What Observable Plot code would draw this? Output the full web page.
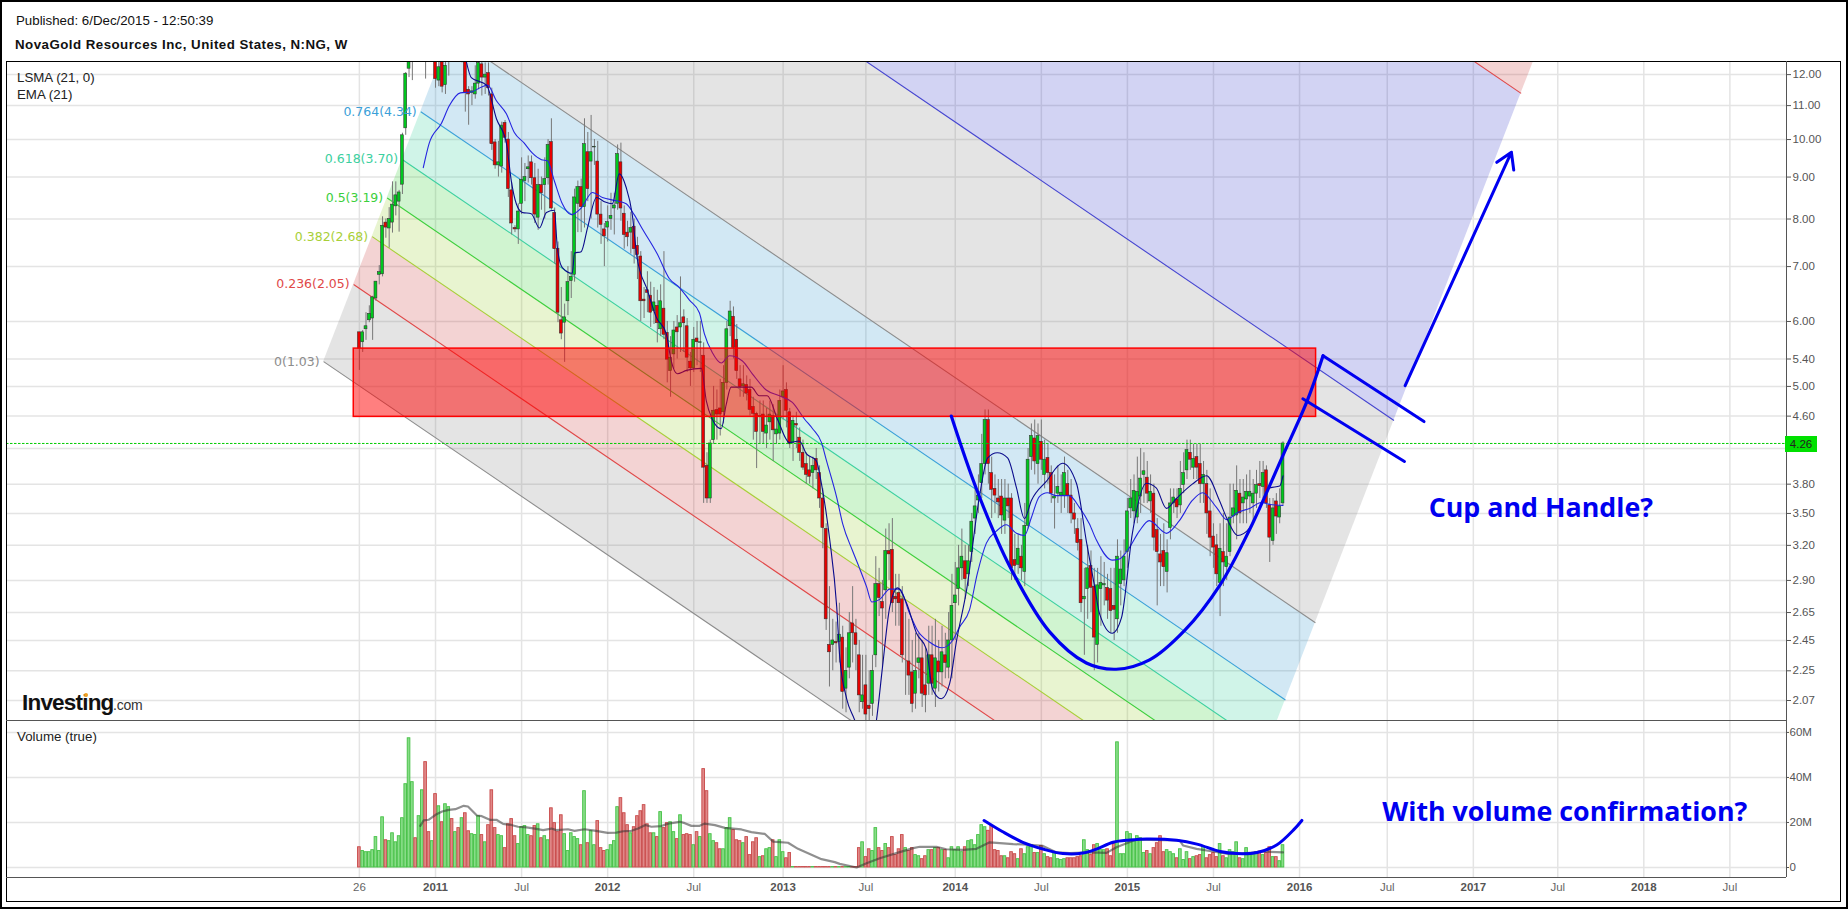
<!DOCTYPE html>
<html><head><meta charset="utf-8">
<script src="https://cdn.jsdelivr.net/npm/d3@7"></script>
<script src="https://cdn.jsdelivr.net/npm/@observablehq/plot@0.6"></script>
<style>
html,body{margin:0;padding:0;background:#fff;overflow:hidden}
#page{position:relative;width:1848px;height:909px;background:#fff;font-family:"Liberation Sans",Arial,sans-serif;color:#111}
#page>div{position:absolute;white-space:nowrap}
#page svg{position:absolute;display:block;overflow:hidden}
</style></head><body><div id="page"></div>
<script>
// ---- weekly prices (week 0 = 26 Jul 2010) ----
const opens=[5.82,5.66,5.87,6.02,6.05,6.40,6.84,6.85,7.92,7.79,7.92,8.29,8.4,8.81,10.32,12.2,14.5,16,15.5,16,
16.5,15,14,14,11.8,13,11.65,12.5,13.5,13,13.8,13,13,11.5,11.4,11.35,11.7,12.35,11.9,12.05,
11.35,9.92,9.3,9.27,10.48,10,8.67,7.8,7.77,8.35,8.9,9.2,9.38,8.97,8.03,8.8,8.8,8.97,9.93,8.14,
7.36,6.02,5.98,6.35,6.72,6.84,8.35,8.75,8.27,9.65,9.4,9.78,9.4,8.1,7.77,7.81,8,8.24,8.35,9.38,
8.12,7.7,7.7,7.83,7.42,7.2,6.38,6.55,6.45,6.18,6.27,5.87,6.22,5.81,5.22,5.47,5.9,5.9,6.07,5.92,
5.36,5.26,5.72,5.65,5.45,4,3.65,4.3,4.68,4.7,4.65,5.05,5.92,6.08,5.7,5.1,5,5.02,4.95,4.72,
4.63,4.59,4.62,4.38,4.52,4.6,4.37,4.38,4.85,4.95,4.65,4.27,4.5,4.33,4.15,4.02,3.95,3.92,4.08,3.92,
3.65,3.35,2.42,2.42,2.44,2.44,2.47,2.14,2.27,2.57,2.5,2.35,2.06,2.16,2.04,2.05,2.35,2.87,2.73,2.82,
3.15,3.16,2.77,2.8,2.75,2.33,2.31,2.24,2.11,2.3,2.33,2.16,2.17,2.35,2.14,2.31,2.24,2.35,2.27,2.45,
2.72,2.83,3.0,3.06,2.95,3.14,3.45,3.63,3.81,4.02,4.55,3.92,3.75,3.65,3.67,3.43,3.65,3.65,3.07,3.03,
3.1,2.97,3.38,4.1,4.32,4.02,4.28,3.9,4.09,3.92,3.65,3.7,3.68,3.68,3.8,3.68,3.5,3.35,3.25,2.75,
2.83,3.02,2.85,2.42,2.83,2.86,2.84,2.83,2.7,2.6,2.87,2.9,3.14,3.55,3.52,3.46,3.67,3.9,3.87,3.62,
3.7,3.34,3.12,3.15,2.97,3.36,3.6,3.64,3.58,3.79,3.95,4.15,3.98,4.1,4.02,3.8,3.8,3.52,3.28,3.2,
2.88,3.14,3.01,3.14,3.47,3.48,3.7,3.6,3.64,3.67,3.6,3.7,3.8,3.77,3.95,3.58,3.24,3.62,3.46,3.6];
const highs=[5.82,5.85,6.15,6.27,6.44,6.71,7.02,8.05,8.0,8.26,8.88,8.88,8.67,10.18,12.07,14.5,16,16.5,16.5,17,
17,15.5,15,14.5,13,13.5,13.5,13.5,14,14,14.2,14,13.5,11.6,11.6,12.3,13,12.6,12.4,12.4,
11.55,10,9.95,10.5,10.55,10.2,8.85,7.85,8.35,9.5,9.35,9.55,9.55,9.35,9.2,9,9.5,10,10.6,8.25,
7.5,6.6,6.3,7,7.3,8.7,8.9,8.95,10.6,10.2,10.7,10,9.95,8.4,7.9,8.3,8.6,8.6,9.85,9.9,
8.3,7.95,8.15,8,7.6,7.3,6.6,6.9,6.7,6.6,6.55,6.65,7.3,6,5.75,6,6.1,6.8,6.2,6.05,
5.5,5.9,6,6,5.65,4.15,4.3,5,4.95,5.1,5.3,6,6.35,6.25,5.95,5.3,5.3,5.15,5.1,4.85,
4.65,4.8,4.8,4.7,4.8,4.75,4.6,4.95,5.3,5.05,4.7,4.6,4.65,4.45,4.3,4.15,4.1,4.1,4.2,4,
3.75,3.4,2.85,2.6,2.58,2.72,2.55,2.4,2.65,2.85,2.6,2.45,2.35,2.35,2.25,2.35,3.1,3,2.9,3.35,
3.4,3.45,2.95,2.95,2.85,2.65,2.6,2.45,2.5,2.5,2.45,2.4,2.55,2.55,2.6,2.45,2.55,2.5,2.65,2.95,
3.05,3.2,3.35,3.2,3.2,3.5,3.75,3.9,4.37,4.68,4.68,4.1,3.9,3.85,3.85,3.85,3.8,3.7,3.3,3.3,
3.2,3.6,4.2,4.5,4.55,4.5,4.55,4.3,4.25,4,3.9,4,3.9,4.1,3.95,3.85,3.6,3.45,3.45,3,
3.2,3.15,3,3,3.1,3.05,2.95,3,3,3.25,3.15,3.25,3.65,3.85,3.9,4.1,4.2,4.15,4.05,3.9,
3.8,3.45,3.3,3.4,3.25,3.75,3.75,3.75,4.05,4.15,4.3,4.3,4.25,4.25,4.25,4.05,3.95,3.75,3.4,3.3,
3.4,3.5,3.4,3.8,3.8,4,3.85,3.85,3.9,3.95,3.85,3.95,4.05,4.05,4,3.65,3.65,3.7,3.75,4.28];
const lows=[5.23,5.50,5.69,5.98,5.69,6.35,6.65,6.8,7.58,7.37,7.69,8.07,7.71,8.57,10.12,11.9,11.8,13,14.5,15,
11.85,13.5,13,11.55,11.6,11.4,11.35,11.95,12.5,12.6,13,12.4,10.8,10.41,11,11.2,11.5,11.3,11.35,11.3,
9.7,9.2,9,9.1,9.9,8.5,7.65,7.7,7.45,8.1,8.4,8.85,8.8,7.9,7.75,8.2,8,8.8,8.2,7.05,
5.98,5.7,5.35,6.1,6.4,6.7,7.7,7.7,7.8,8.4,8,9.3,7.8,7.45,7,7.5,7.75,7.65,8.2,7.95,
7.35,7.4,7.25,7.05,6.75,6,6.05,6.15,5.9,5.95,5.65,5.75,5.7,5.05,4.85,5.25,5.4,5.5,5.5,5.2,
5,5.2,5.3,5.2,3.6,3.6,3.6,4.25,4.3,4.35,4.5,4.95,5.75,5.4,5.1,4.85,4.85,4.8,4.6,4.3,
3.97,4.25,4.25,4.2,4.3,4.05,4.25,4.3,4.55,4.45,4.2,4.05,4.2,4.05,3.95,3.8,3.8,3.75,3.85,3.55,
3.17,2.52,2.15,2.25,2.3,2.3,2.02,2,2.2,2.3,2.25,2,2.02,1.95,1.95,1.98,2.27,2.62,2.27,2.6,
2.9,2.65,2.55,2.55,2.3,2.1,2.1,2,2.02,2.2,2.03,2,2.1,2.1,2.03,2.12,2.15,2.2,2.2,2.2,
2.45,2.7,2.9,2.75,2.85,3.05,3.3,3.5,3.65,3.9,3.8,3.45,3.5,3.45,3.3,3.3,3.45,2.9,2.9,2.95,
2.9,2.85,3.35,3.95,3.9,3.8,3.95,3.75,3.8,3.6,3.35,3.6,3.5,3.55,3.5,3.4,3.3,3.15,2.65,2.35,
2.6,2.65,2.25,2.3,2.55,2.7,2.6,2.5,2.45,2.5,2.7,2.85,3,3.45,3.4,3.4,3.5,3.6,3.6,3.5,
3.15,2.7,2.85,2.85,2.8,3.25,3.5,3.45,3.5,3.7,3.85,3.95,3.85,3.85,3.6,3.6,3.3,3.1,3,2.85,
2.62,2.85,2.9,3.1,3.4,3.25,3.4,3.4,3.4,3.5,3.4,3.55,3.65,3.65,3.55,3.05,3.2,3.3,3.4,3.58];
const closes=[5.56,5.82,5.92,6.13,6.42,6.71,6.89,7.85,7.81,8.0,8.33,8.55,8.62,10.12,12.03,14,15.5,15.5,16,16.5,
15,14,14.5,11.85,12.25,11.6,12.3,12.7,13,13.5,13.2,13.5,11.4,11.35,11.45,11.7,12.4,11.9,12,11.55,
9.87,9.3,9.38,10.4,10.05,8.7,7.9,7.77,8.17,8.93,9,9.25,8.97,8.1,8.8,8.6,8.95,9.85,8.24,7.35,
6.15,5.8,6.07,6.7,6.8,8.5,8.75,8.27,9.87,8.7,9.65,9.8,8.1,7.87,7.62,7.93,8.07,8.31,9.6,8.24,
7.65,7.6,7.8,7.35,7.23,6.35,6.35,6.5,6.15,6.33,5.97,6.35,5.78,5.39,5.42,5.85,5.82,5.97,5.97,5.42,
5.26,5.7,5.66,5.66,3.98,3.65,4.26,4.67,4.62,4.62,5.05,5.87,6.17,5.57,5.22,4.99,5.03,4.9,4.68,4.63,
4.4,4.6,4.4,4.48,4.62,4.42,4.43,4.8,4.93,4.67,4.25,4.54,4.48,4.15,3.98,3.9,3.88,4,3.95,3.65,
3.36,2.6,2.37,2.45,2.43,2.49,2.12,2.25,2.5,2.5,2.42,2.1,2.1,1.99,2.02,2.25,2.87,2.76,2.68,3.15,
3.12,2.72,2.75,2.72,2.35,2.33,2.22,2.05,2.25,2.33,2.11,2.1,2.35,2.17,2.33,2.24,2.37,2.3,2.45,2.7,
2.78,3.0,3.1,2.91,3.06,3.42,3.57,3.68,4.02,4.55,4.02,3.74,3.68,3.61,3.48,3.65,3.57,3.0,3.02,3.17,
3.0,3.38,4.07,4.35,4.05,4.35,4.07,4.07,3.92,3.7,3.67,3.77,3.71,3.92,3.68,3.5,3.44,3.22,2.72,2.77,
3.0,2.84,2.47,2.86,2.88,2.87,2.74,2.66,2.67,3.1,2.99,3.1,3.52,3.65,3.73,3.72,3.86,3.94,3.7,3.72,
3.27,3.14,3.05,3.01,3.13,3.6,3.66,3.56,3.75,3.92,4.18,4.07,4.08,3.98,3.8,3.9,3.5,3.27,3.18,2.95,
3.17,3.05,3.1,3.46,3.55,3.73,3.5,3.66,3.72,3.72,3.7,3.79,3.78,3.92,3.6,3.27,3.55,3.47,3.57,4.26];
// ---- weekly volume, millions ----
const volumes=[9.0,7.3,6.8,6.8,7.7,13.5,7.3,22.3,12.1,11.7,15.2,11.2,13.9,21.9,37.0,57.4,37.9,13.0,22.8,34.3,
46.8,15.7,11.7,32.6,27.2,20.1,28.1,26.8,21.5,15.7,17.5,21.9,24.1,16.1,14.8,14.4,22.8,14.4,11.2,18.8,
34.3,17.5,14.4,13.9,8.6,19.2,21.5,13.9,10.4,17.9,18.4,14.4,13.9,18.4,19.2,13.0,13.9,12.1,26.3,19.7,
15.7,23.2,14.8,7.3,15.2,13.5,12.6,9.9,33.9,10.8,16.1,9.9,20.6,8.6,7.3,7.7,9.9,11.7,26.8,30.8,
24.1,18.8,15.2,17.9,22.8,25.0,27.7,19.2,15.2,15.2,13.5,24.6,17.5,19.7,20.1,15.7,12.6,23.2,14.4,14.8,
14.4,9.9,15.7,13.5,43.7,33.9,14.8,11.7,10.8,8.1,8.1,17.5,21.9,16.6,12.1,11.7,10.8,13.5,5.5,11.2,
13.0,4.6,5.0,8.1,8.6,12.1,4.6,12.1,6.8,4.1,6.4,0.2,0.2,0.2,0.2,0.2,0.2,0.2,0.2,0.2,
0.2,0.2,0.2,0.2,0.2,0.2,0.2,0.2,0.2,0.2,0.2,8.6,11.2,4.6,8.1,7.3,17.5,8.6,7.3,10.4,
8.6,13.5,5.5,8.1,14.4,8.6,7.3,8.6,5.5,5.0,3.7,5.0,7.7,7.7,8.6,8.6,7.7,7.7,4.1,9.0,
7.7,9.0,6.8,9.0,11.7,12.1,9.9,14.4,18.8,17.9,16.3,18.4,7.7,7.3,5.0,5.0,4.1,6.8,5.9,3.7,
8.1,5.9,9.0,9.9,6.4,6.4,9.5,5.9,4.6,4.1,6.8,3.7,3.3,3.7,4.1,4.1,4.1,4.6,5.0,12.1,
7.7,5.5,9.9,10.4,7.7,7.7,8.1,5.0,10.4,55.6,5.9,5.9,15.7,14.8,12.3,13.9,13.0,6.4,7.3,5.9,
8.6,10.8,13.9,6.8,7.7,6.8,5.9,4.1,8.1,3.3,6.8,3.7,4.6,5.0,5.5,9.5,4.1,5.5,6.4,4.6,
10.4,5.0,4.1,7.7,6.8,11.2,4.1,3.7,8.6,5.5,5.5,6.8,7.1,5.5,6.4,9.0,4.6,4.6,2.8,9.9];
// ---- moving averages: week, value ----
const emaWeek=[19.3,21.1,24.8,27.2,30.5,33.8,37.1,38.7,41.4,44.4,46.8,49.8,52.2,55,56.8,58.9,61.3,64,67,70.4,73.4,77.6,80.6,83,85.5,90,93.6,96.7,99.7,102.7,104.2,106.6,109.3,111.8,115.7,118.7,122.9,126.9,130.8,134.5,136.9,139.6,141.1,144.2,146,149,151.1,153.2,154.8,157.2,160.2,163.2,166.1,168.6,172.2,176,179.2,181.2,184.3,186.7,189.4,192.4,195.4,198.5,200.9,203,205.4,207.8,210.6,214.4,217.5,220.5,222.6,227.4,229.6,232.6,235.6,238.6,243.8,247.7,251.6,254.7,258.9,262,265.3,268.9,272.5,275,279];
const emaPrice=[9.24,9.9,10.47,11,11.4,11.43,11.6,11.65,11.15,10.75,10.2,9.9,9.63,9.45,9.42,8.9,8.35,8.1,8.25,8.62,8.5,8.42,8.35,8.1,7.78,7.25,6.77,6.6,6.37,6.15,5.8,5.5,5.34,5.45,5.37,5.18,4.95,4.87,4.78,4.56,4.44,4.27,4.06,3.66,3.4,3.15,3.0,2.85,2.73,2.75,2.83,2.83,2.65,2.52,2.44,2.4,2.45,2.54,2.67,2.96,3.22,3.33,3.39,3.31,3.29,3.46,3.67,3.71,3.68,3.68,3.56,3.4,3.25,3.07,3.08,3.18,3.33,3.43,3.31,3.43,3.63,3.71,3.56,3.44,3.51,3.55,3.61,3.59,3.58];
const lsmaWeek=[32.3,33.8,38.4,41.4,44.4,45.9,47.4,49.2,51.9,54.4,56.5,58.9,59.8,61.3,64.3,65,67,68.9,71.6,74,76.4,78.5,80.6,82.4,83.9,87,89.7,92.7,94.2,96,98.8,103.3,104.8,106.6,109.3,110.8,112.3,118.4,120.8,123.2,126.3,129.9,132.9,135,138,139.6,142,144.2,145.1,147.2,149.6,152.9,156.2,158,160.2,162.6,165.3,168.3,171.3,173.1,175.8,178.3,180.4,183.4,187.3,189.8,192.7,195.8,198.5,200.9,203,207.5,212.4,216.6,219.7,222.1,223.6,227.4,230.2,233.5,237.7,240.7,243.8,246.8,251.6,255.9,259.8,262.2,265.3,268.9,272.5,275,278,279];
const lsmaPrice=[12.45,11.9,11.65,10.6,9.9,8.9,8.35,8.15,8.12,7.8,8.15,8.2,7.38,6.98,6.87,7.27,7.3,7.8,8.5,8.4,8.35,9.08,8.74,8.12,7.17,6.55,6.07,5.8,5.37,5.18,5.23,5.26,4.8,4.56,4.44,4.75,4.99,4.99,4.87,4.87,4.56,4.27,4.29,4.14,4.06,3.8,3.27,2.69,2.34,2.08,1.96,1.76,1.96,2.27,2.69,2.84,2.72,2.5,2.39,2.14,2.08,2.17,2.45,2.82,3.67,4.09,4.15,4.09,3.76,3.45,3.63,3.83,4.03,3.81,3.22,2.85,2.64,2.5,2.61,3.31,3.81,3.76,3.55,3.65,3.8,3.89,3.63,3.44,3.29,3.36,3.6,3.76,3.78,3.89];
const volEmaWeek=[18.4,19.4,20.9,23,25,27,29,31.5,32.8,35.5,37,39.4,41.4,43.4,45.9,47.9,50.5,53,55.5,58,59.5,63,65,68,71,75,77.6,79.7,82.2,84.2,86.4,88.2,91.2,93.3,96.8,98.3,100.3,102.8,104.3,107.4,110.4,115.4,118.4,122.5,125,129.5,132.5,139.6,143.6,145.1,150.2,153.2,157.2,162.2,167.3,169.3,174.3,177.3,182.4,186.4,190.4,194.5,197.5,202.5,206.5,210.6,214.6,220.7,225.7,228.7,234.7,238.8,247.8,248.8,252.9,257.9,261.9,268,273,279];
const volEmaValue=[18.5,20.9,21.2,23.4,24.9,25.6,25.9,27.4,27.1,23.1,22.8,21.2,21.2,19.4,18.9,18.1,17.8,17.3,16.6,17.3,16.6,17,16.3,17,16.4,15.4,15.5,16.1,16.3,17.3,18.9,18.1,18.4,19.5,20.3,19.7,18.5,18.5,19.5,18.8,17.6,16.9,15.7,14.9,11.5,11,8.3,3.7,2.4,1.6,0,1.9,4.1,6.4,8.6,9.2,9.2,8.1,7.8,8.3,11.2,10.7,10.4,10.1,9.6,6.7,6.4,6.7,6.5,9,12.4,12.3,12,9.8,8.3,7.1,6.1,6.4,7.1,6.7];
// ---- hand-drawn annotations: week, value ----
const cupWeek=[178.8,186.6,196.4,208.5,219.6,228.6,238.7,249.3,259.9,269,279,286.3,291.1];
const cupPrice=[4.6,3.73,3.02,2.51,2.3,2.26,2.32,2.52,2.86,3.35,4.12,4.8,5.45];
const volCupWeek=[188.7,194.2,200.4,206.5,212.5,218.6,222.7,227.7,232.7,237.8,246.9,253,260,265.1,271.2,277.2,282.2,284.7];
const volCupValue=[20.9,16,11.2,8.2,6.2,6.4,8.2,11.2,12.2,12.7,12.1,10.4,7.1,6.2,6.7,10.1,16.7,20.9];
const handleWeek=[[291.1,321.6],[285,315.7]];
const handlePrice=[[5.45,4.53],[4.83,4.05]];
const arrowWeek=[315.9,348,343.6,348,348.7];
const arrowPrice=[5.01,9.65,9.38,9.65,9.18];
// ---- Fibonacci channel ----
const fibLevels=[0,0.236,0.382,0.5,0.618,0.764,1,1.618,2.618,4.236];
const fibText=["0(1.03)","0.236(2.05)","0.382(2.68)","0.5(3.19)","0.618(3.70)","0.764(4.34)"];
const fibLine=["#8c8c8c","#e04848","#a8cf38","#3ccf3c","#3cd0a0","#3aa0d8","#8c8c8c","#4545d0","#e04848"];
const fibFill=["#7a7a7a","#c32323","#8cc814","#14c814","#14c88c","#1e8cc8","#7a7a7a","#1e23c3","#c32323"];
const fibStart={week:-10.8,price:5.36};
const fibStep={week:38.4,factor:2.506};
const fibRun={week:261.2,factor:0.1917};
const zone={week1:-1.7,week2:289,price1:4.59,price2:5.56};
// ---- axes ----
const priceTicks=[12,11,10,9,8,7,6,5.4,5,4.6,4.2,3.8,3.5,3.2,2.9,2.65,2.45,2.25,2.07];
const volumeTicks=[0,20,40,60];
const xTickWeeks=[0,23,49,75,101,128,153,180,206,232,258,284,310.5,336.5,362,388,414];
const xTickLabels=["26","2011","Jul","2012","Jul","2013","Jul","2014","Jul","2015","Jul","2016","Jul","2017","Jul","2018","Jul"];
const xDomain=[-106.6,431.1];

const weeks=d3.range(opens.length);
const BLUE="#0000f0", GRID="#e4e4e4", FONT='"Liberation Sans",Arial,sans-serif';
const fibAt=l=>({w:fibStart.week+fibStep.week*l,p:fibStart.price*Math.pow(fibStep.factor,l)});
const fibPts=fibLevels.map(fibAt);
const up=i=>closes[i]>=opens[i];

const bandMarks=fibFill.map((c,i)=>{
  const a=fibPts[i],b=fibPts[i+1];
  const rows=[{x1:a.w,y1:a.p,x2:b.w,y2:b.p},{x1:a.w+fibRun.week,y1:a.p*fibRun.factor,x2:b.w+fibRun.week,y2:b.p*fibRun.factor}];
  return Plot.area(rows,{x1:"x1",y1:"y1",x2:"x2",y2:"y2",fill:c,fillOpacity:.2,clip:true});
});
const lineRows=fibLine.map((c,i)=>({x1:fibPts[i].w,y1:fibPts[i].p,x2:fibPts[i].w+fibRun.week,y2:fibPts[i].p*fibRun.factor,c}));
const labelRows=fibText.map((t,i)=>({t,w:fibPts[i].w,p:fibPts[i].p,c:fibLine[i]}));
const pts=(xs,ys)=>xs.map((x,i)=>({x,y:ys[i]}));

const price=Plot.plot({
  width:1848,height:659,marginLeft:6,marginRight:62,marginTop:0,marginBottom:0,
  style:{fontFamily:FONT,background:"transparent"},
  x:{domain:xDomain,axis:null},
  y:{type:"log",domain:[1.957,12.45],axis:null},
  marks:[
    Plot.ruleY(priceTicks,{stroke:GRID,strokeWidth:1.5}),
    Plot.ruleX(xTickWeeks,{stroke:GRID,strokeWidth:1.5}),
    ...bandMarks,
    Plot.link(lineRows,{x1:"x1",y1:"y1",x2:"x2",y2:"y2",stroke:"c",strokeWidth:1.1,clip:true}),
    Plot.ruleX(weeks,{x:i=>i,y1:i=>lows[i],y2:i=>highs[i],stroke:"#777",strokeWidth:1,clip:true}),
    Plot.rect(weeks,{x1:i=>i-.44,x2:i=>i+.44,y1:i=>opens[i],y2:i=>closes[i],fill:i=>up(i)?"#00c81e":"#e80000",stroke:"#303030",strokeWidth:.55,clip:true}),
    Plot.line(pts(emaWeek,emaPrice),{x:"x",y:"y",stroke:"#2424e0",strokeWidth:1.1,curve:"monotone-x",clip:true}),
    Plot.line(pts(lsmaWeek,lsmaPrice),{x:"x",y:"y",stroke:"#0a0a8c",strokeWidth:1.1,curve:"monotone-x",clip:true}),
    Plot.rect([zone],{x1:"week1",x2:"week2",y1:"price1",y2:"price2",fill:"#ff0000",fillOpacity:.5,stroke:"#ff0000",strokeWidth:1.5}),
    Plot.ruleY([closes[closes.length-1]],{stroke:"#00cc00",strokeWidth:1,strokeDasharray:"2.5,1.5"}),
    Plot.text(labelRows,{x:"w",y:"p",text:"t",fill:"c",textAnchor:"end",dx:-4,fontSize:12.5,fontFamily:'"DejaVu Sans",sans-serif'}),
    Plot.line(pts(cupWeek,cupPrice),{x:"x",y:"y",stroke:BLUE,strokeWidth:3.2,curve:"catmull-rom"}),
    ...handleWeek.map((h,i)=>Plot.line(pts(h,handlePrice[i]),{x:"x",y:"y",stroke:BLUE,strokeWidth:3})),
    Plot.line(pts(arrowWeek,arrowPrice),{x:"x",y:"y",stroke:BLUE,strokeWidth:3}),
    Plot.text(["Cup and Handle?"],{x:323,y:3.55,textAnchor:"start",fill:BLUE,fontSize:26.8,fontWeight:"bold",fontFamily:'"Open Sans",sans-serif'}),
    Plot.axisY(priceTicks,{anchor:"right",label:null,tickSize:4,tickPadding:2,tickFormat:d=>d===4.2?"":d.toFixed(2),fontSize:11.5,color:"#555"})
  ]
});
price.style.left="0";price.style.top="61px";

const volume=Plot.plot({
  width:1848,height:181,marginLeft:6,marginRight:62,marginTop:0,marginBottom:24,
  style:{fontFamily:FONT,background:"transparent"},
  x:{domain:xDomain,axis:null},
  y:{domain:[-4.44,65.3],axis:null},
  marks:[
    Plot.ruleY(volumeTicks,{stroke:GRID,strokeWidth:1.5}),
    Plot.ruleX(xTickWeeks,{stroke:GRID,strokeWidth:1.5}),
    Plot.rect(weeks,{x1:i=>i-.4,x2:i=>i+.4,y1:0,y2:i=>volumes[i],fill:i=>up(i)?"#88dd88":"#e08888",stroke:i=>up(i)?"#44c044":"#c84848",strokeWidth:.9}),
    Plot.line(pts(volEmaWeek,volEmaValue),{x:"x",y:"y",stroke:"#333",strokeOpacity:.55,strokeWidth:2.2}),
    Plot.line(pts(volCupWeek,volCupValue),{x:"x",y:"y",stroke:BLUE,strokeWidth:3,curve:"catmull-rom"}),
    Plot.text(["With volume confirmation?"],{x:309,y:24.3,textAnchor:"start",fill:BLUE,fontSize:26.8,fontWeight:"bold",fontFamily:'"Open Sans",sans-serif'}),
    Plot.axisY(volumeTicks,{anchor:"right",label:null,tickSize:2,tickPadding:1,tickFormat:d=>d?d+"M":"0",fontSize:11.5,color:"#555"}),
    Plot.axisX(xTickWeeks.filter((d,i)=>xTickLabels[i]==="Jul"||xTickLabels[i]==="26"),{anchor:"bottom",label:null,tickSize:0,tickPadding:5,
      tickFormat:d=>xTickLabels[xTickWeeks.indexOf(d)],fontSize:11.5,color:"#666"}),
    Plot.axisX(xTickWeeks.filter((d,i)=>/^20/.test(xTickLabels[i])),{anchor:"bottom",label:null,tickSize:0,tickPadding:5,
      tickFormat:d=>xTickLabels[xTickWeeks.indexOf(d)],fontSize:11.5,fontWeight:"bold",color:"#555"})
  ]
});
volume.style.left="0";volume.style.top="720px";

const page=document.getElementById("page");
page.append(price,volume);
function box(css,html){const d=document.createElement("div");d.style.cssText=css;if(html)d.innerHTML=html;page.append(d);return d;}
// frames and panel separators
box("left:0;top:0;width:1844px;height:905px;border:2px solid #000");
box("left:6px;top:61px;width:1833px;height:839px;border:1.5px solid #000");
box("left:6px;top:719.5px;width:1780px;height:1.5px;background:#555");
box("left:6px;top:876.5px;width:1780px;height:1.5px;background:#555");
box("left:1785.5px;top:61px;width:1.5px;height:816px;background:#555");
// header and legends
box("left:16px;top:13px;font-size:13.3px","Published: 6/Dec/2015 - 12:50:39");
box("left:15px;top:37px;font-size:13.3px;font-weight:bold;letter-spacing:.47px","NovaGold Resources Inc, United States, N:NG, W");
box("left:17px;top:70px;font-size:13.3px;color:#222","LSMA (21, 0)");
box("left:17px;top:87px;font-size:13.3px;color:#222","EMA (21)");
box("left:17px;top:729px;font-size:13.3px;color:#222","Volume (true)");
// last-price tag
box("left:1785px;top:436px;width:32px;height:16px;background:#00e000;color:#222;font-size:11.5px;line-height:16px;text-align:center","4.26");
// logo
box("left:22px;top:690px;font-size:22.5px;line-height:26px;font-weight:bold;letter-spacing:-.8px;color:#111","Investing");
box("left:113px;top:695px;font-size:14px;line-height:20px;color:#333;letter-spacing:-.2px",".com");
box("left:84px;top:692.5px;width:4px;height:4px;border-radius:2px;background:#f0a020");
</script></body></html>
